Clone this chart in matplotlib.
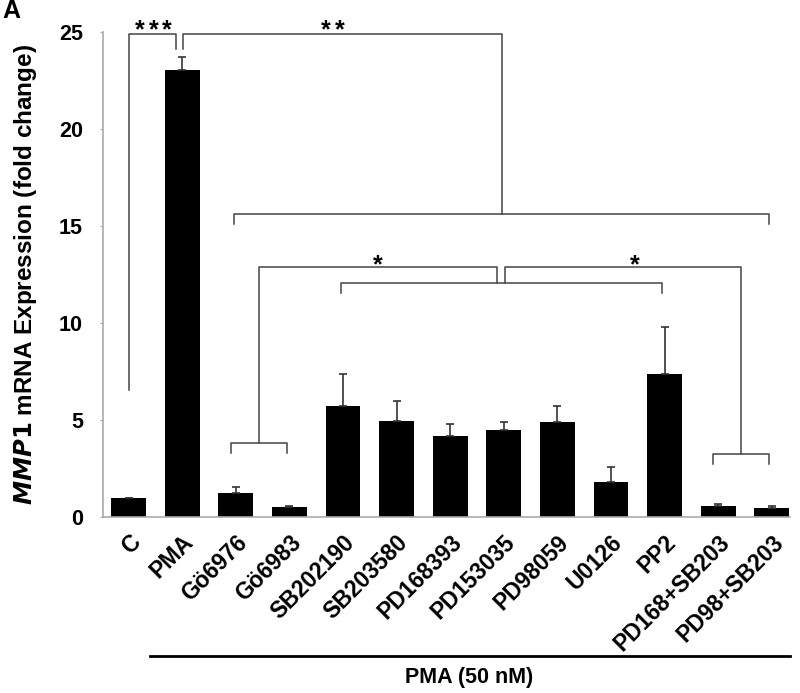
import matplotlib.pyplot as plt

plt.rcParams["font.family"] = ["Liberation Sans", "DejaVu Sans"]
plt.rcParams["font.weight"] = "bold"

# bar data
categories = [
    "C", "PMA", "Gö6976", "Gö6983", "SB202190", "SB203580", "PD168393",
    "PD153035", "PD98059", "U0126", "PP2", "PD168+SB203", "PD98+SB203",
]
means = [1.0, 23.05, 1.25, 0.52, 5.7, 4.97, 4.15, 4.48, 4.88, 1.78, 7.35, 0.55, 0.46]
errors = [0.0, 0.65, 0.3, 0.05, 1.67, 0.99, 0.63, 0.4, 0.84, 0.77, 2.46, 0.13, 0.08]
y_ticks = [0, 5, 10, 15, 20, 25]

# significance brackets: (x_left, x_right, y_bar, y_left_end, y_right_end)
brackets = [
    (0.0, 0.89, 24.9, 6.55, 24.1),
    (1.02, 6.97, 24.9, 24.1, 15.6),
    (1.97, 11.95, 15.6, 15.1, 15.1),
    (2.43, 6.87, 12.9, 3.8, 12.06),
    (1.91, 2.96, 3.8, 3.3, 3.3),
    (3.96, 9.95, 12.06, 11.55, 11.55),
    (7.02, 11.43, 12.9, 12.06, 3.25),
    (10.9, 11.95, 3.25, 2.73, 2.73),
]
# star labels: (x centre, baseline y, number of stars)
stars = [(0.466, 24.72, 3), (3.81, 24.72, 2), (4.65, 12.6, 1), (9.45, 12.6, 1)]
STAR_PITCH = 9.6  # points between neighbouring stars

fig = plt.figure(figsize=(8.0, 6.93), dpi=100)
ax = fig.add_axes([0.12875, 0.254, 0.85875, 0.70])

x = range(len(categories))
ax.bar(x, means, width=0.65, color="black", zorder=2)
ax.errorbar(
    x, means, yerr=[[0] * len(errors), errors], fmt="none",
    ecolor="#333333", elinewidth=1.2, capsize=2.8, capthick=1.2, zorder=3,
)

line_color = "#444444"
for xl, xr, yb, yle, yre in brackets:
    ax.plot([xl, xl, xr, xr], [yle, yb, yb, yre], color=line_color,
            linewidth=1.1, clip_on=False, zorder=4)
for sx, sy, n in stars:
    for k in range(n):
        off = (k - (n - 1) / 2) * STAR_PITCH
        ax.annotate("*", (sx, sy), xytext=(off, 0), textcoords="offset points",
                    ha="center", va="baseline", fontsize=18, fontweight="bold",
                    annotation_clip=False)

ax.set_xlim(-0.476, 12.34)
ax.set_ylim(0, 25)
ax.set_yticks(y_ticks)
ax.set_yticklabels([str(t) for t in y_ticks], fontsize=15.5, fontweight="bold")
ax.set_xticks(list(x))
ax.set_xticklabels(categories, rotation=45, ha="right", rotation_mode="anchor",
                   fontsize=16.5, fontweight="bold")
ax.tick_params(axis="x", length=0, pad=10)
ax.tick_params(axis="y", length=2.5, color="#aaaaaa", pad=12)

for side in ["top", "right"]:
    ax.spines[side].set_visible(False)
for side in ["left", "bottom"]:
    ax.spines[side].set_color("#aaaaaa")
    ax.spines[side].set_linewidth(1.2)

ax.set_ylabel(r"$\bf{\it{MMP1}}$ mRNA Expression (fold change)",
              fontsize=17.5, fontweight="bold", labelpad=14)

# PMA treatment line + label
fig.add_artist(plt.Line2D([150 / 800, 790 / 800], [1 - 656 / 693, 1 - 656 / 693],
                          color="black", linewidth=2))
fig.text(469 / 800, 1 - 678 / 693, "PMA (50 nM)", ha="center", va="center",
         fontsize=15.5, fontweight="bold")
fig.text(2 / 800, 1 - 11 / 693, "A", ha="left", va="center", fontsize=18,
         fontweight="bold")

fig.savefig("out.png", dpi=100)
